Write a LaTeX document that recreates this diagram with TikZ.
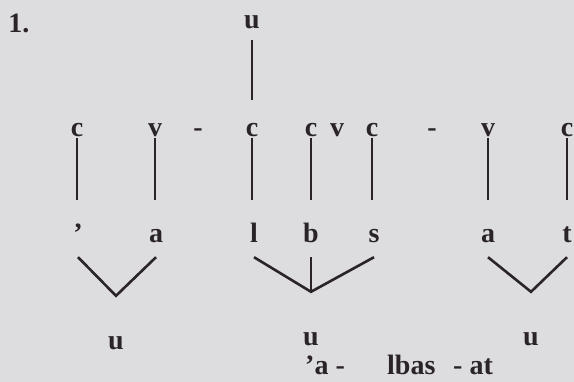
\documentclass[tikz,border=0pt]{standalone}
\usepackage{fontspec}
\setmainfont{Liberation Serif}
\definecolor{paper}{RGB}{221,221,223}
\definecolor{ink}{RGB}{42,36,40}

\begin{document}
\begin{tikzpicture}[
    x=1pt, y=-1pt,
    font=\fontsize{28}{34}\selectfont\bfseries, text=ink,
    letter/.style={inner sep=0pt, anchor=base},
    top/.style={letter, text height=14pt, text depth=11pt},
    seg/.style={letter, text height=37pt, text depth=1pt},
    sub/.style={letter, text height=43pt, text depth=14pt},
    low/.style={letter, text height=54pt, text depth=0pt},
    tie/.style={draw=ink, line width=2.6pt}
  ]
    \fill[paper] (0,0) rectangle (574,382);
    \useasboundingbox (0,0) rectangle (574,382);

    \node[letter] (num) at (19,33) {1.};
    \node[top] (utop) at (252,29) {u};

    % skeleton tier
    \node[seg] (c1) at (77,137) {c};
    \node[seg] (v1) at (155,137) {v};
    \node[seg] (h1) at (198,137) {-};
    \node[seg] (c2) at (252,137) {c};
    \node[seg] (c3) at (311,137) {c};
    \node[seg] (v2) at (337,137) {v};
    \node[seg] (c4) at (372,137) {c};
    \node[seg] (h2) at (432,137) {-};
    \node[seg] (v3) at (488,137) {v};
    \node[seg] (c5) at (567,137) {c};

    % segment tier
    \node[sub] (q1) at (78,243) {’};
    \node[sub] (a1) at (156,243) {a};
    \node[sub] (l) at (254,243) {l};
    \node[sub] (b) at (311,243) {b};
    \node[sub] (s) at (374,243) {s};
    \node[sub] (a2) at (488,243) {a};
    \node[sub] (t) at (567,243) {t};

    % melody tier
    \node[low] (ub1) at (116,350) {u};
    \node[low] (ub2) at (311,346) {u};
    \node[low] (ub3) at (531,346) {u};

    \node[letter, anchor=base west] (w1) at (305,375) {’a -};
    \node[letter, anchor=base west] (w2) at (387,375) {lbas};
    \node[letter, anchor=base west] (w3) at (453,375) {- at};

    \draw[tie] (utop) -- (c2);
    \draw[tie] (c1) -- (c1 |- q1.north);
    \draw[tie] (v1) -- (v1 |- a1.north);
    \draw[tie] (c2) -- (c2 |- l.north);
    \draw[tie] (c3) -- (c3 |- b.north);
    \draw[tie] (c4) -- (c4 |- s.north);
    \draw[tie] (v3) -- (v3 |- a2.north);
    \draw[tie] (c5) -- (c5 |- t.north);

    \draw[tie] (q1.south) -- (ub1.north) -- (a1.south);
    \draw[tie] (l.south) -- (ub2.north) -- (s.south);
    \draw[tie] (b) -- (ub2);
    \draw[tie] (a2.south) -- (ub3.north) -- (t.south);
  \end{tikzpicture}
\end{document}
